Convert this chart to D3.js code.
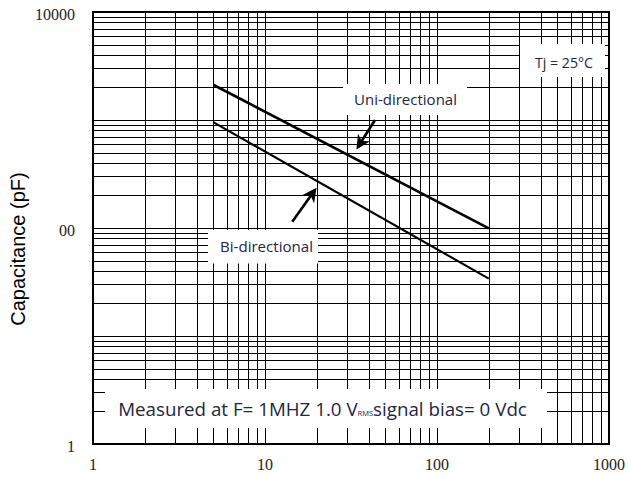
<!DOCTYPE html>
<html>
<head>
<meta charset="utf-8">
<script src="https://cdn.jsdelivr.net/npm/d3@7"></script>
<style>
  body { margin: 0; background: #fff; }
  svg { display: block; }
</style>
</head>
<body>
<svg></svg>
<script>
var width = 628;
var height = 478;

// data
var voltage = [5, 200];
var uniCap = [2120, 99];
var biCap = [955, 34];

var xTickValues = [1, 10, 100, 1000];
var xTickLabels = ["1", "10", "100", "1000"];
var yTickValues = [1, 100, 10000];
var yTickLabels = ["1", "00", "10000"];

// arrows, in data units: [from, to]
var uniArrow = [[43.6, 1000], [34.7, 562]];
var biArrow = [[14.4, 114], [19.5, 225]];

var svg = d3.select("svg").attr("width", width).attr("height", height);
svg.append("rect").attr("width", width).attr("height", height).attr("fill", "#fff");

var x = d3.scaleLog().domain([1, 1000]).range([93, 609]);
var y = d3.scaleLog().domain([1, 10000]).range([444, 12]);

var textColor = "#1e2640";

// grid
var grid = svg.append("g").attr("stroke", "#000").attr("stroke-width", 1).attr("shape-rendering", "crispEdges");
grid.selectAll(".vx").data(x.ticks()).enter().append("line")
    .attr("x1", function(d) { return Math.round(x(d)) + 0.5; })
    .attr("x2", function(d) { return Math.round(x(d)) + 0.5; })
    .attr("y1", y(10000)).attr("y2", y(1));
grid.selectAll(".hy").data(y.ticks()).enter().append("line")
    .attr("y1", function(d) { return Math.round(y(d)) + 0.5; })
    .attr("y2", function(d) { return Math.round(y(d)) + 0.5; })
    .attr("x1", x(1)).attr("x2", x(1000));

// white boxes that cut the grid
var boxes = [
    [520, 44, 605, 77],
    [343, 84, 467, 115],
    [208, 230, 318, 263.5],
    [105, 389, 547, 428]
];
svg.selectAll(".box").data(boxes).enter().append("rect")
    .attr("x", function(d) { return d[0]; })
    .attr("y", function(d) { return d[1]; })
    .attr("width", function(d) { return d[2] - d[0]; })
    .attr("height", function(d) { return d[3] - d[1]; })
    .attr("fill", "#fff");

// frame
svg.append("rect")
    .attr("x", x(1)).attr("y", y(10000))
    .attr("width", x(1000) - x(1)).attr("height", y(1) - y(10000))
    .attr("fill", "none").attr("stroke", "#000").attr("stroke-width", 2);

// tick labels
svg.selectAll(".xl").data(xTickValues).enter().append("text")
    .attr("x", function(d) { return x(d); })
    .attr("y", 470)
    .attr("text-anchor", "middle")
    .attr("font-family", "Liberation Serif")
    .attr("font-size", 16)
    .attr("fill", "#222")
    .text(function(d, i) { return xTickLabels[i]; });

svg.selectAll(".yl").data(yTickValues).enter().append("text")
    .attr("x", 75)
    .attr("y", function(d) { return y(d) + 8; })
    .attr("text-anchor", "end")
    .attr("font-family", "Liberation Serif")
    .attr("font-size", 16)
    .attr("fill", "#222")
    .each(function(d, i) {
        if (yTickLabels[i].length > 3) d3.select(this).attr("textLength", 40).attr("lengthAdjust", "spacingAndGlyphs");
    })
    .text(function(d, i) { return yTickLabels[i]; });

// axis title
svg.append("text")
    .attr("transform", "translate(24.5,249) rotate(-90)")
    .attr("text-anchor", "middle")
    .attr("font-family", "Liberation Sans, Arial")
    .attr("font-size", 20)
    .attr("fill", "#000")
    .text("Capacitance (pF)");

// curves
var line = d3.line()
    .x(function(d) { return x(d[0]); })
    .y(function(d) { return y(d[1]); });

svg.append("path")
    .datum(voltage.map(function(v, i) { return [v, uniCap[i]]; }))
    .attr("d", line).attr("fill", "none").attr("stroke", "#000").attr("stroke-width", 2.6);
svg.append("path")
    .datum(voltage.map(function(v, i) { return [v, biCap[i]]; }))
    .attr("d", line).attr("fill", "none").attr("stroke", "#000").attr("stroke-width", 2.1);

// arrows
svg.append("defs").append("marker")
    .attr("id", "head")
    .attr("viewBox", "0 0 10 10")
    .attr("refX", 8).attr("refY", 5)
    .attr("markerWidth", 5.5).attr("markerHeight", 5.5)
    .attr("orient", "auto")
    .append("path").attr("d", "M0,0 L10,5 L0,10 L3,5 Z").attr("fill", "#000");

svg.selectAll(".arrow").data([uniArrow, biArrow]).enter().append("path")
    .attr("d", line)
    .attr("stroke", "#000").attr("stroke-width", 2.6).attr("fill", "none")
    .attr("marker-end", "url(#head)");

// labels, sized to the width seen in the picture
function fit(sel, target) {
    var w = sel.node().getComputedTextLength();
    var fs = +sel.attr("font-size");
    sel.attr("font-size", fs * target / w);
}

var font = "Open Sans, Noto Sans, sans-serif";

var tj = svg.append("text").attr("x", 564).attr("y", 67.5).attr("text-anchor", "middle")
    .attr("font-family", font).attr("font-size", 13).attr("fill", textColor).text("Tj = 25°C");
fit(tj, 58);

var uni = svg.append("text").attr("x", 405.5).attr("y", 105).attr("text-anchor", "middle")
    .attr("font-family", font).attr("font-size", 14).attr("fill", textColor).text("Uni-directional");
fit(uni, 103);

var bi = svg.append("text").attr("x", 266.5).attr("y", 252).attr("text-anchor", "middle")
    .attr("font-family", font).attr("font-size", 14).attr("fill", textColor).text("Bi-directional");
fit(bi, 93);

var meas = svg.append("text").attr("x", 322.5).attr("y", 416).attr("text-anchor", "middle")
    .attr("font-family", font).attr("font-size", 18).attr("fill", textColor);
meas.append("tspan").text("Measured at F= 1MHZ 1.0 V");
meas.append("tspan").attr("font-size", "0.4em").text("RMS");
meas.append("tspan").attr("font-size", "1em").text("signal bias= 0 Vdc");
fit(meas, 409);
</script>
</body>
</html>
